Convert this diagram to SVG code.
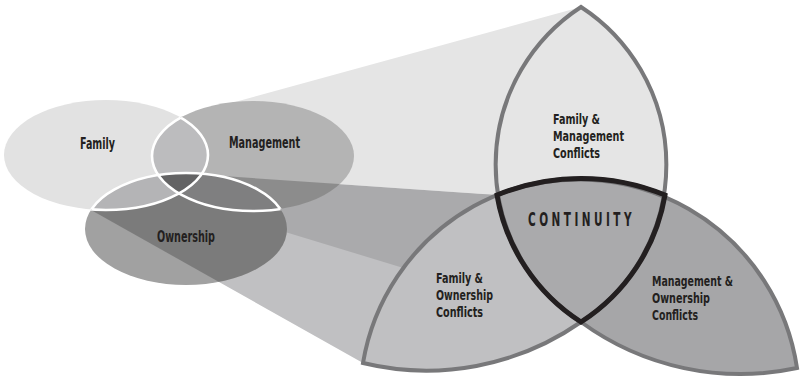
<svg xmlns="http://www.w3.org/2000/svg" width="802" height="379" viewBox="0 0 802 379">
<defs>
<style>
.lbl{font-family:"DejaVu Sans Condensed","DejaVu Sans","Liberation Sans",sans-serif;font-weight:bold;font-stretch:condensed;fill:#231f20;font-size:15px}
.pl{font-size:14.5px}
.petal{fill:none;stroke:#78787a;stroke-width:4;stroke-linejoin:miter;stroke-miterlimit:30}
.core{fill:none;stroke:#231f20;stroke-width:5;stroke-linejoin:miter;stroke-miterlimit:30}
.wl{fill:none;stroke:#ffffff;stroke-width:2.6}
</style>
<clipPath id="cF"><ellipse cx="106" cy="155" rx="102" ry="55"/></clipPath>
<clipPath id="cM"><ellipse cx="253" cy="156" rx="101" ry="55"/></clipPath>
<clipPath id="cO"><ellipse cx="186" cy="229" rx="101" ry="56"/></clipPath>
<clipPath id="cMO"><ellipse cx="253" cy="156" rx="101" ry="55"/><ellipse cx="186" cy="229" rx="101" ry="56"/></clipPath>
<clipPath id="cFO"><ellipse cx="106" cy="155" rx="102" ry="55"/><ellipse cx="186" cy="229" rx="101" ry="56"/></clipPath>
<clipPath id="cFM"><ellipse cx="106" cy="155" rx="102" ry="55"/><ellipse cx="253" cy="156" rx="101" ry="55"/></clipPath>
</defs>
<rect width="802" height="379" fill="#ffffff"/>

<g id="connectors">
  <path id="beam-top" d="M180,117 L581,7 A188,188 0 0 0 497,195 L180,173 Z" fill="#e5e5e5"/>
  <path id="beam-fo" d="M91,210 L363,363 A221,221 0 0 1 497,195 L160,178 Z" fill="#c0c0c2"/>
  <path id="beam-core" d="M180,173 L497,195 A221,221 0 0 1 665,195 A188,188 0 0 1 581,322 L180,200 Z" fill="#aaaaac"/>
</g>

<g id="petal-fm">
  <path d="M581,7 A188,188 0 0 0 581,322 A188,188 0 0 0 581,7 Z" fill="#e5e5e5"/>
</g>
<g id="petal-mo">
  <path d="M797,368 A221,221 0 0 0 497,195 A188,188 0 0 0 581,322 A270,270 0 0 0 797,368 Z" fill="#a6a6a8"/>
</g>
<g id="petal-fo">
  <path d="M363,363 A221,221 0 0 1 665,195 A188,188 0 0 1 581,322 A270,270 0 0 1 363,363 Z" fill="#c0c0c2"/>
</g>
<g id="continuity">
  <path d="M497,195 A221,221 0 0 1 665,195 A188,188 0 0 1 581,322 A188,188 0 0 1 497,195 Z" fill="#aaaaac"/>
</g>
<g id="petal-outlines">
  <path class="petal" d="M581,7 A188,188 0 0 0 581,322 A188,188 0 0 0 581,7 Z"/>
  <path class="petal" d="M797,368 A221,221 0 0 0 497,195 A188,188 0 0 0 581,322 A270,270 0 0 0 797,368 Z"/>
  <path class="petal" d="M363,363 A221,221 0 0 1 665,195 A188,188 0 0 1 581,322 A270,270 0 0 1 363,363 Z"/>
  <path class="core" d="M497,195 A221,221 0 0 1 665,195 A188,188 0 0 1 581,322 A188,188 0 0 1 497,195 Z"/>
</g>

<g id="venn">
  <ellipse id="family" cx="106" cy="155" rx="102" ry="55" fill="#e2e2e2"/>
  <ellipse id="management" cx="253" cy="156" rx="101" ry="55" fill="#b4b4b4"/>
  <path d="M180,173 L497,195 L581,322 L180,200 Z" fill="#000" fill-opacity="0.22" clip-path="url(#cM)"/>
  <ellipse id="ownership" cx="186" cy="229" rx="101" ry="56" fill="#a1a1a1"/>
  <path d="M91,210 L363,363 L497,195 L160,178 Z" fill="#000" fill-opacity="0.23" clip-path="url(#cO)"/>
  <ellipse cx="253" cy="156" rx="101" ry="55" fill="#bcbcbe" clip-path="url(#cF)"/>
  <ellipse cx="186" cy="229" rx="101" ry="56" fill="#b4b4b6" clip-path="url(#cF)"/>
  <ellipse cx="186" cy="229" rx="101" ry="56" fill="#7f7f80" clip-path="url(#cM)"/>
  <g clip-path="url(#cF)"><ellipse cx="186" cy="229" rx="101" ry="56" fill="#636364" clip-path="url(#cM)"/></g>
  <ellipse class="wl" cx="106" cy="155" rx="102" ry="55" clip-path="url(#cMO)"/>
  <ellipse class="wl" cx="253" cy="156" rx="101" ry="55" clip-path="url(#cFO)"/>
  <ellipse class="wl" cx="186" cy="229" rx="101" ry="56" clip-path="url(#cFM)"/>
</g>

<g id="labels">
  <text class="lbl" x="97.5" y="149" text-anchor="middle" textLength="35" lengthAdjust="spacingAndGlyphs">Family</text>
  <text class="lbl" x="264.5" y="148" text-anchor="middle" textLength="71" lengthAdjust="spacingAndGlyphs">Management</text>
  <text class="lbl" x="186" y="242" text-anchor="middle" textLength="58" lengthAdjust="spacingAndGlyphs">Ownership</text>

  <text class="lbl pl" x="553" y="124" textLength="47" lengthAdjust="spacingAndGlyphs">Family &amp;</text>
  <text class="lbl pl" x="553" y="141" textLength="71" lengthAdjust="spacingAndGlyphs">Management</text>
  <text class="lbl pl" x="553" y="158" textLength="47" lengthAdjust="spacingAndGlyphs">Conflicts</text>

  <text class="lbl" x="528" y="226" style="font-size:20px;letter-spacing:6px" textLength="107" lengthAdjust="spacingAndGlyphs">CONTINUITY</text>

  <text class="lbl pl" x="436" y="283" textLength="47" lengthAdjust="spacingAndGlyphs">Family &amp;</text>
  <text class="lbl pl" x="436" y="300" textLength="57" lengthAdjust="spacingAndGlyphs">Ownership</text>
  <text class="lbl pl" x="436" y="317" textLength="47" lengthAdjust="spacingAndGlyphs">Conflicts</text>

  <text class="lbl pl" x="652" y="286" textLength="81" lengthAdjust="spacingAndGlyphs">Management &amp;</text>
  <text class="lbl pl" x="652" y="303" textLength="58" lengthAdjust="spacingAndGlyphs">Ownership</text>
  <text class="lbl pl" x="652" y="320" textLength="46" lengthAdjust="spacingAndGlyphs">Conflicts</text>
</g>
</svg>
